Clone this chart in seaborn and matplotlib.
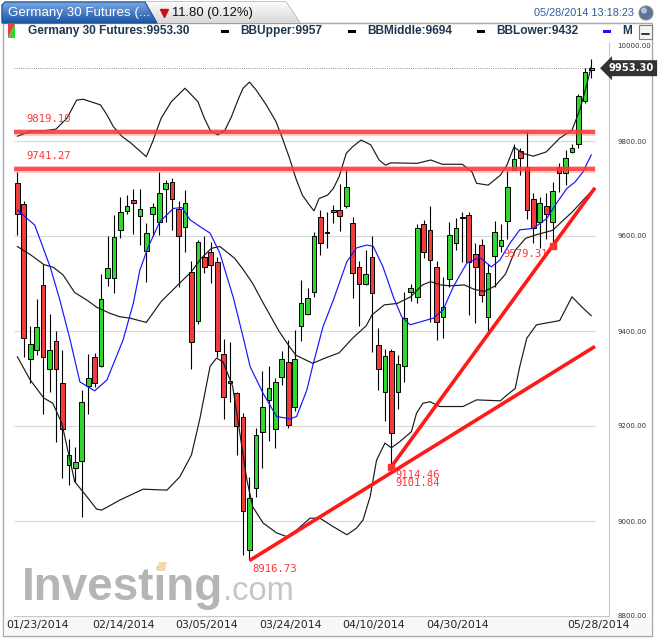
import numpy as np
import pandas as pd
import seaborn as sns
import matplotlib.pyplot as plt
from matplotlib.patches import Polygon, Rectangle, Circle
from matplotlib.colors import LinearSegmentedColormap

sns.set_theme(style="white")
plt.rcParams["font.family"] = ["DejaVu Sans"]

W, H = 664, 639

# daily candles, index 0 .. 89 (last one = 05/28/2014)
opens = [9711, 9667, 9342, 9359, 9497, 9321, 9379, 9290, 9118, 9111,
         9126, 9284, 9346, 9326, 9511, 9511, 9613, 9653, 9675, 9643,
         9569, 9646, 9629, 9698, 9714, 9657, 9618, 9525, 9422, 9555,
         9566, 9546, 9351, 9290, 9269, 9218, 8939, 9070, 9187, 9254,
         9194, 9304, 9334, 9239, 9410, 9435, 9483, 9641, 9607, 9654,
         9654, 9663, 9627, 9534, 9500, 9555, 9370, 9272, 9358, 9271,
         9327, 9483, 9471, 9625, 9612, 9534, 9429, 9509, 9585, 9641,
         9644, 9563, 9582, 9429, 9558, 9579, 9632, 9740, 9778, 9746,
         9677, 9630, 9664, 9629, 9745, 9732, 9776, 9793, 9884, 9949]
highs = [9734, 9674, 9411, 9467, 9542, 9435, 9401, 9360, 9172, 9156,
         9276, 9351, 9353, 9520, 9599, 9645, 9682, 9686, 9699, 9700,
         9627, 9670, 9735, 9718, 9723, 9674, 9697, 9548, 9592, 9601,
         9588, 9555, 9383, 9376, 9272, 9227, 9093, 9196, 9316, 9326,
         9302, 9358, 9381, 9402, 9507, 9490, 9609, 9655, 9651, 9665,
         9709, 9739, 9641, 9547, 9571, 9599, 9406, 9362, 9363, 9349,
         9483, 9498, 9625, 9634, 9664, 9547, 9513, 9630, 9637, 9651,
         9650, 9585, 9593, 9542, 9632, 9625, 9737, 9793, 9786, 9821,
         9690, 9683, 9691, 9714, 9753, 9781, 9794, 9898, 9953, 9973]
lows = [9602, 9346, 9290, 9349, 9225, 9271, 9166, 9091, 9076, 9083,
        9009, 9225, 9283, 9325, 9495, 9481, 9596, 9646, 9605, 9581,
        9504, 9599, 9603, 9630, 9613, 9492, 9566, 9321, 9414, 9523,
        9502, 9346, 9215, 9251, 9140, 8928, 8917, 9051, 9111, 9168,
        9154, 9286, 9196, 9231, 9378, 9434, 9472, 9561, 9574, 9627,
        9611, 9660, 9470, 9411, 9497, 9356, 9276, 9210, 9114, 9236,
        9292, 9463, 9458, 9554, 9420, 9381, 9386, 9493, 9571, 9546,
        9434, 9416, 9462, 9400, 9493, 9567, 9593, 9739, 9728, 9636,
        9585, 9574, 9594, 9579, 9693, 9707, 9774, 9785, 9881, 9932]
closes = [9646, 9386, 9372, 9408, 9346, 9359, 9321, 9193, 9139, 9125,
          9250, 9302, 9290, 9467, 9532, 9598, 9651, 9663, 9670, 9656,
          9606, 9662, 9690, 9711, 9677, 9601, 9669, 9376, 9587, 9535,
          9540, 9358, 9262, 9295, 9200, 9021, 9049, 9181, 9239, 9281,
          9292, 9342, 9203, 9342, 9458, 9469, 9601, 9585, 9608, 9650,
          9643, 9704, 9523, 9500, 9521, 9481, 9321, 9347, 9185, 9330,
          9427, 9490, 9616, 9566, 9549, 9418, 9451, 9603, 9616, 9637,
          9546, 9534, 9476, 9523, 9609, 9591, 9704, 9763, 9764, 9655,
          9616, 9669, 9646, 9695, 9732, 9764, 9785, 9895, 9945, 9953.3]

# bollinger bands and moving average
upper_x = [0, 2, 4, 6, 7.7, 9.2, 10.2, 12.9, 13.9, 14.9, 16.2, 17.5, 20, 21, 22.3,
           23.9, 26, 28, 29, 30, 31.1, 32.2, 33.2, 34.2, 35, 36, 37, 38.6, 40.1,
           41.1, 42.2, 43.2, 44.2, 45.3, 46, 46.8, 48.1, 49, 49.9, 51, 52, 53.3,
           54.8, 56.1, 57.1, 57.9, 62, 64.1, 65.9, 69, 70.5, 71.2, 73, 74.9, 75.9,
           77, 78.4, 80, 82, 84.1, 86, 87.2, 88.2, 89]
upper_y = [9810, 9820, 9821, 9825, 9848, 9886, 9888, 9876, 9855, 9830, 9810, 9797,
           9767, 9799, 9848, 9883, 9911, 9883, 9848, 9820, 9813, 9823, 9851, 9886,
           9911, 9924, 9908, 9876, 9841, 9806, 9764, 9721, 9686, 9665, 9653, 9679,
           9686, 9700, 9725, 9774, 9788, 9802, 9792, 9760, 9749, 9754, 9753, 9760,
           9751, 9751, 9735, 9711, 9707, 9728, 9749, 9787, 9774, 9768, 9777, 9806,
           9823, 9865, 9914, 9957]
middle_x = [0, 2, 4.1, 5.6, 7.1, 8.9, 10.8, 12.3, 14.4, 15.9, 17.5, 20, 22.3, 24.9,
            27, 28.5, 30.1, 31.4, 33.7, 35, 36.5, 38, 40.6, 42.2, 43.2, 45.8, 47.9,
            49.9, 52, 54.1, 55, 56.9, 58.9, 61, 62.8, 64.1, 65.6, 67.2, 69.3, 70.8,
            72.4, 74.1, 75.7, 77.2, 78.8, 80.3, 83, 84.4, 86, 87.5, 89]
middle_y = [9578, 9561, 9540, 9534, 9518, 9481, 9465, 9450, 9437, 9430, 9427, 9418,
            9462, 9497, 9525, 9553, 9574, 9578, 9553, 9530, 9500, 9462, 9399, 9367,
            9349, 9332, 9344, 9354, 9385, 9411, 9434, 9455, 9458, 9472, 9497, 9504,
            9497, 9495, 9497, 9488, 9483, 9495, 9520, 9570, 9595, 9602, 9612, 9630,
            9650, 9672, 9694]
lower_x = [0, 2, 4.1, 5.5, 6.9, 8.9, 10.8, 12.3, 13.1, 15.9, 19.5, 23.2, 25.2, 27,
           28.3, 29.9, 30.9, 31.9, 33.4, 34.5, 35.6, 36.5, 38.1, 40.2, 41.8, 43.3,
           45.4, 46.9, 49, 51.1, 52.6, 53.6, 54.7, 55.7, 57, 58, 59.3, 61.1, 61.9,
           62.9, 64, 65.5, 69.1, 71.2, 74.9, 75.9, 77.2, 77.9, 79, 80.5, 84.1, 86,
           87.5, 89]
lower_y = [9346, 9297, 9259, 9248, 9206, 9083, 9051, 9025, 9023, 9044, 9067, 9065,
           9093, 9139, 9215, 9326, 9343, 9335, 9283, 9185, 9086, 9030, 8996, 8975,
           8967, 8981, 9006, 9006, 8988, 8971, 8985, 9002, 9051, 9128, 9164, 9154,
           9167, 9188, 9227, 9248, 9251, 9241, 9241, 9255, 9253, 9265, 9279, 9325,
           9385, 9413, 9422, 9472, 9451, 9432]
ma_x = [0, 2.7, 5.1, 6.6, 8.2, 9.7, 12, 13.9, 16.4, 18, 19, 20.3, 22.1, 24.2, 25.5,
        26.8, 28.3, 29.9, 31.4, 33.5, 35, 36.1, 38.1, 40.2, 42.3, 43.3, 44.9, 45.9,
        47.4, 49, 51.1, 52.6, 54.2, 55.2, 56.7, 58.3, 59.6, 60.9, 64.5, 66, 67.6,
        69.7, 71.7, 73.5, 74.8, 76.4, 77.9, 80, 82.1, 83.6, 85.2, 86.5, 87.7, 89]
ma_y = [9655, 9623, 9535, 9465, 9381, 9293, 9274, 9297, 9381, 9459, 9528, 9577,
        9630, 9658, 9660, 9634, 9620, 9606, 9564, 9470, 9388, 9325, 9269, 9220,
        9215, 9220, 9276, 9332, 9409, 9465, 9546, 9575, 9581, 9578, 9535, 9472,
        9430, 9413, 9427, 9444, 9493, 9543, 9555, 9535, 9549, 9585, 9613, 9616,
        9637, 9669, 9700, 9714, 9735, 9771]

levels = [9819.10, 9741.27]
trend_a = [(36, 8916.73), (58, 9101.84)]
trend_b = [(58, 9114.46), (83, 9579.31)]

date_pos = [3.2, 16.4, 29.3, 42.3, 55.3, 68.3, 90.05]
date_labels = ["01/23/2014", "02/14/2014", "03/05/2014", "03/24/2014",
               "04/10/2014", "04/30/2014", "05/28/2014"]
y_ticks = [8800, 9000, 9200, 9400, 9600, 9800, 10000]
grid_levels = [9000, 9200, 9400, 9600, 9800]

x0, x_data_end, x1 = -0.51, 89.57, 91.74

fig = plt.figure(figsize=(W / 100, H / 100), dpi=100)
fig.patch.set_facecolor("white")

# background / chrome axes in pixel coordinates
bg = fig.add_axes([0, 0, 1, 1], zorder=-1)
bg.set_xlim(0, W)
bg.set_ylim(H, 0)
bg.axis("off")

ax = fig.add_axes([14 / W, 1 - 616 / H, (609 - 14) / W, (616 - 46) / H])
ax.set_facecolor("none")
for s in ax.spines.values():
    s.set_visible(False)

# grid
ax.hlines(grid_levels, x0, x_data_end, color="#d9d9d9", lw=0.8, zorder=0)

# candles
idx = np.arange(len(opens))
o = np.array(opens, dtype=float)
c = np.array(closes, dtype=float)
up = c >= o
body_lo = np.minimum(o, c)
body_h = np.maximum(np.abs(c - o), 1.5)
ax.vlines(idx, lows, highs, color="black", lw=0.8, zorder=2)
ax.bar(idx, body_h, bottom=body_lo, width=0.72,
       color=np.where(up, "#2fd82f", "#f03c3c"), edgecolor="black",
       linewidth=0.7, zorder=3)

# indicator lines
for bx, by in [(upper_x, upper_y), (middle_x, middle_y), (lower_x, lower_y)]:
    sns.lineplot(x=bx, y=by, ax=ax, color="#1a1a1a", lw=0.85, sort=False,
                 estimator=None, zorder=4)
sns.lineplot(x=ma_x, y=ma_y, ax=ax, color="#1414ff", lw=0.85, sort=False,
             estimator=None, zorder=4)

# horizontal levels
for lv in levels:
    ax.hlines(lv, x0, x_data_end, color="#ff3030", lw=5.0, alpha=0.25, zorder=5)
    ax.hlines(lv, x0, x_data_end, color="#ff3a3a", lw=3.0, alpha=0.85, zorder=5)
    ax.annotate(f"{lv:.2f}", xy=(0, lv), xycoords=("axes fraction", "data"),
                xytext=(8.6, 9.4), textcoords="offset points", va="center",
                ha="left", color="#ff3333", fontsize=7.6,
                family="DejaVu Sans Mono", zorder=6)

# last price dotted line
ax.hlines(closes[-1], x0, x_data_end, color="#707070", lw=0.6,
          linestyles=(0, (1, 1.6)), zorder=1)

# trend lines
ax.annotate(f"{trend_a[0][1]:.2f}", xy=trend_a[0], xytext=(2.2, -6.2),
            textcoords="offset points", ha="left", va="center",
            color="#ff3333", fontsize=7.6, family="DejaVu Sans Mono", zorder=6)
for (xa, ya), (xb, yb) in [trend_a, trend_b]:
    slope = (yb - ya) / (xb - xa)
    ax.plot([xa, x_data_end], [ya, ya + slope * (x_data_end - xa)],
            color="#ff1a1a", lw=2.6, solid_capstyle="butt", zorder=8)
ax.plot([trend_b[0][0], trend_b[1][0]], [trend_b[0][1], trend_b[1][1]],
        ls="none", marker="s", ms=4.2, color="#ff3030", zorder=8)
ax.annotate(f"{trend_b[0][1]:.2f}", xy=trend_b[0], xytext=(2.6, -6.0),
            textcoords="offset points", ha="left", va="center",
            color="#ff3333", fontsize=7.6, family="DejaVu Sans Mono", zorder=9)
ax.annotate(f"{trend_a[1][1]:.2f}", xy=trend_a[1], xytext=(2.6, -7.6),
            textcoords="offset points", ha="left", va="center",
            color="#ff3333", fontsize=7.6, family="DejaVu Sans Mono", zorder=9)
ax.annotate(f"{trend_b[1][1]:.2f}", xy=trend_b[1], xytext=(-35.5, -6.2),
            textcoords="offset points", ha="left", va="center",
            color="#ff3333", fontsize=7.6, family="DejaVu Sans Mono", zorder=6)

# price tag
ax.annotate(f"{closes[-1]:.2f}", xy=(1, closes[-1]), xycoords=("axes fraction", "data"),
            xytext=(16.2, 0), textcoords="offset points", ha="center", va="center",
            color="white", fontsize=7.2, fontweight="bold", zorder=10,
            bbox=dict(boxstyle="larrow,pad=0.3", fc="#333333", ec="none"),
            annotation_clip=False)

ax.set_xlim(x0, x1)
ax.set_ylim(8800, 10000)
ax.yaxis.tick_right()
ax.set_yticks(y_ticks, [f"{t:.2f}" for t in y_ticks])
ax.set_xticks(date_pos, date_labels)
ax.tick_params(axis="y", length=0, pad=5.8, labelsize=5, labelcolor="#333333")
ax.tick_params(axis="x", length=0, pad=3.0, labelsize=7.8, labelcolor="#222222")
ax.set_xlabel("")
ax.set_ylabel("")
ax.grid(False)

# ---- chrome (pixel coords) ----
bg.add_patch(Rectangle((3, 23), 649, 613, fill=False, ec="#a9a9a9", lw=1))
bg.plot([14, 609], [616, 616], color="#c8c8c8", lw=0.8)
bg.plot([609, 609], [42, 616], color="#c8c8c8", lw=0.8)
bg.add_patch(Rectangle((4, 617), 647, 18, fc="#f6f8fa", ec="none"))

# tabs
light_tab = Polygon([(2, 23), (2, 5), (5, 2), (286, 2), (300, 23)], closed=True,
                    fc="#eeeeee", ec="#9a9a9a", lw=0.8)
bg.add_patch(light_tab)
grad = np.linspace(0, 1, 40).reshape(-1, 1)
lt = bg.imshow(grad, extent=(2, 300, 23, 2), aspect="auto", zorder=2,
               cmap=LinearSegmentedColormap.from_list("lt", ["#fbfbfb", "#d9d9d9"]))
lt.set_clip_path(light_tab)
blue_tab = Polygon([(2, 23), (2, 5), (5, 2), (145, 2), (157, 23)], closed=True,
                   fc="none", ec="#1b4f96", lw=0.8, zorder=3)
bg.add_patch(blue_tab)
bt = bg.imshow(grad, extent=(2, 157, 23, 2), aspect="auto", zorder=2,
               cmap=LinearSegmentedColormap.from_list("bt", ["#78a6e2", "#1c56a6"]))
bt.set_clip_path(blue_tab)
bg.plot([300, 652], [23, 23], color="#a9a9a9", lw=0.8)
bg.set_xlim(0, W)
bg.set_ylim(H, 0)

bg.text(8, 13, "Germany 30 Futures (...", color="white", fontsize=9.6,
        family="Liberation Sans", va="center", ha="left", zorder=4)
bg.plot([164], [13], marker="v", ms=6, color="#c81010", zorder=4)
bg.text(172, 13, "11.80 (0.12%)", color="#111111", fontsize=9.4,
        family="Liberation Sans", va="center", ha="left", zorder=4)
bg.text(634, 13, "05/28/2014 13:18:23", color="#2a5d9f", fontsize=7.8,
        family="Liberation Sans", va="center", ha="right")
bg.add_patch(Circle((646, 13), 7, fc="#5d7597", ec="#8c8c8c", lw=0.8))
bg.add_patch(Circle((644, 10.5), 3, fc="#c9d6ea", ec="none", alpha=0.8))

# legend row
bg.add_patch(Polygon([(8, 24), (15, 24), (8, 38)], fc="#f03c3c", ec="none"))
bg.add_patch(Polygon([(15, 24), (15, 38), (8, 38)], fc="#2fd82f", ec="none"))
leg_font = dict(fontsize=8.6, fontweight="bold", family="Liberation Sans",
                color="#1e3852", va="center", ha="left")
bg.text(28, 31, "Germany 30 Futures:9953.30", **leg_font)
for dx, label, col in [(221, "BBUpper:9957", "black"), (348, "BBMiddle:9694", "black"),
                       (477, "BBLower:9432", "black"), (603, "M", "#1414ff")]:
    bg.add_patch(Rectangle((dx, 29.5), 8, 3.5, fc=col, ec="none"))
    bg.text(dx + 19, 31, label, **leg_font)
bg.add_patch(Rectangle((639, 24.5), 13, 14, fc="#f4f4f4", ec="#808080", lw=0.8))
bg.plot([642, 649], [34, 34], color="#333333", lw=1.4)

# watermark
bg.text(22, 600, "Investing", fontsize=33, fontweight="bold", family="Liberation Sans",
        color="#b5b5b5", va="baseline", ha="left", zorder=1)
bg.add_patch(Polygon([(157, 571), (159, 562), (167, 562), (165, 571)], fc="#f6d9a6",
                     ec="none", zorder=2))
bg.text(223, 600, ".com", fontsize=23.5, family="Liberation Sans",
        color="#c6c6c6", va="baseline", ha="left", zorder=1)

fig.savefig("out.png", dpi=100, facecolor="white")
